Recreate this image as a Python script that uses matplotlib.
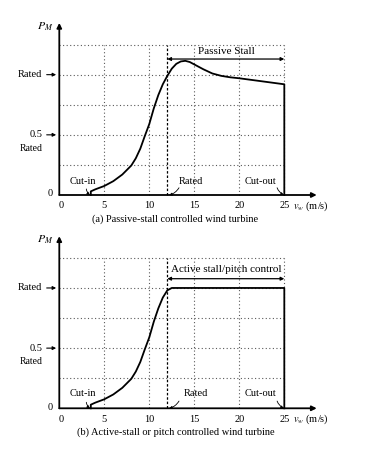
import matplotlib
matplotlib.use("Agg")
import matplotlib.pyplot as plt

plt.rcParams['font.family'] = ['Liberation Serif', 'DejaVu Serif']
plt.rcParams['mathtext.fontset'] = 'stix'

# Data
ws_a = [3.5, 3.5, 4, 5, 6, 7, 8, 8.5, 9, 9.5, 10, 10.5, 11, 11.5, 12, 12.5, 13, 13.5, 14, 14.5, 15, 16, 17, 18, 19, 20, 21, 22, 23, 24, 25, 25]
pw_a = [0, 0.03, 0.047, 0.075, 0.115, 0.17, 0.245, 0.305, 0.385, 0.49, 0.59, 0.72, 0.83, 0.92, 0.99, 1.05, 1.09, 1.11, 1.115, 1.105, 1.085, 1.045, 1.01, 0.99, 0.978, 0.97, 0.96, 0.95, 0.94, 0.93, 0.92, 0]
ws_b = [3.5, 3.5, 4, 5, 6, 7, 8, 8.5, 9, 9.5, 10, 10.5, 11, 11.5, 12, 12.5, 13, 25, 25]
pw_b = [0, 0.03, 0.047, 0.075, 0.115, 0.17, 0.245, 0.305, 0.385, 0.49, 0.59, 0.72, 0.83, 0.92, 0.98, 1.0, 1.0, 1.0, 0]
xticks = [0, 5, 10, 15, 20, 25]
grid_y = [0.25, 0.5, 0.75, 1.0, 1.25]
grid_x = [5, 10, 15, 20, 25]
cut_in, rated_speed, cut_out = 3.5, 12, 25

fig = plt.figure(figsize=(3.68, 4.5), dpi=100)
FS = 7.5

def panel(rect, ws, pw, region_label, caption, label_y, arrow_y, ann_y, rated_tx):
    ax = fig.add_axes(rect)
    ax.set_xlim(-0.5, 29)
    ax.set_ylim(-0.05, 1.45)
    ax.axis('off')
    # grid
    for gy in grid_y:
        ax.plot([0, 25], [gy, gy], color='0.35', lw=0.8, ls=(0, (1, 2.2)))
    for gx in grid_x:
        ax.plot([gx, gx], [0, 1.25], color='0.35', lw=0.8, ls=(0, (1, 2.2)))
    ax.plot([rated_speed, rated_speed], [0, 1.25], color='black', lw=0.9, ls=(0, (2, 1.5)))
    # axes
    ax.annotate('', xy=(0, 1.43), xytext=(0, 0),
                arrowprops=dict(arrowstyle='-|>', lw=1.3, color='black', mutation_scale=7, shrinkA=0, shrinkB=0))
    ax.annotate('', xy=(28.6, 0), xytext=(0, 0),
                arrowprops=dict(arrowstyle='-|>', lw=1.3, color='black', mutation_scale=7, shrinkA=0, shrinkB=0))
    # curve
    ax.plot(ws, pw, color='black', lw=1.3, solid_joinstyle='round')
    # y labels
    ax.text(-1.9, 1.0, 'Rated', ha='right', va='center', fontsize=FS, clip_on=False)
    ax.annotate('', xy=(-0.35, 1.0), xytext=(-1.4, 1.0), annotation_clip=False,
                arrowprops=dict(arrowstyle='-|>', lw=0.8, color='black', mutation_scale=5, shrinkA=0, shrinkB=0))
    ax.text(-1.9, 0.5, '0.5', ha='right', va='center', fontsize=FS, clip_on=False)
    ax.annotate('', xy=(-0.35, 0.5), xytext=(-1.4, 0.5), annotation_clip=False,
                arrowprops=dict(arrowstyle='-|>', lw=0.8, color='black', mutation_scale=5, shrinkA=0, shrinkB=0))
    ax.text(-1.9, 0.39, 'Rated', ha='right', va='center', fontsize=FS - 0.5, clip_on=False)
    ax.text(-1.0, 0.01, '0', ha='center', va='center', fontsize=FS, clip_on=False)
    ax.text(-1.6, 1.40, r'$P_M$', ha='center', va='center', fontsize=FS + 1, clip_on=False)
    # x labels
    for t in xticks:
        ax.text(t + (0.25 if t == 0 else 0), -0.09, str(t), ha='center', va='center', fontsize=FS, clip_on=False)
    ax.text(26.0, -0.09, r'$v_w$ (m/s)', ha='left', va='center', fontsize=FS, clip_on=False)
    # annotations
    ax.text(2.6, ann_y, 'Cut-in', ha='center', va='center', fontsize=FS)
    ax.annotate('', xy=(cut_in - 0.1, 0.0), xytext=(3.0, 0.05),
                arrowprops=dict(arrowstyle='-|>', lw=0.6, color='black', mutation_scale=4,
                                shrinkA=0, shrinkB=0, connectionstyle='arc3,rad=0.2'))
    ax.text(rated_tx, ann_y, 'Rated', ha='center', va='center', fontsize=FS)
    ax.annotate('', xy=(rated_speed + 0.2, 0.0), xytext=(13.3, 0.06),
                arrowprops=dict(arrowstyle='-|>', lw=0.6, color='black', mutation_scale=4,
                                shrinkA=0, shrinkB=0, connectionstyle='arc3,rad=-0.2'))
    ax.text(22.3, ann_y, 'Cut-out', ha='center', va='center', fontsize=FS)
    ax.annotate('', xy=(cut_out - 0.05, 0.0), xytext=(24.2, 0.06),
                arrowprops=dict(arrowstyle='-|>', lw=0.6, color='black', mutation_scale=4,
                                shrinkA=0, shrinkB=0, connectionstyle='arc3,rad=0.2'))
    # region arrow
    ax.annotate('', xy=(25, arrow_y), xytext=(12, arrow_y),
                arrowprops=dict(arrowstyle='<|-|>', lw=0.9, color='black', mutation_scale=5, shrinkA=0, shrinkB=0))
    ax.text(18.6, label_y, region_label, ha='center', va='center', fontsize=FS + 0.5)
    ax.text(12.9, -0.2, caption, ha='center', va='center', fontsize=FS, clip_on=False)
    return ax

panel([0.1489, 0.5533, 0.7215, 0.4011], ws_a, pw_a, 'Passive Stall',
      '(a) Passive-stall controlled wind turbine', 1.19, 1.13, 0.116, 14.6)
panel([0.1489, 0.0793, 0.7215, 0.4011], ws_b, pw_b, 'Active stall/pitch control',
      '(b) Active-stall or pitch controlled wind turbine', 1.15, 1.077, 0.124, 15.2)

fig.savefig('out.png', dpi=100, facecolor='white')
